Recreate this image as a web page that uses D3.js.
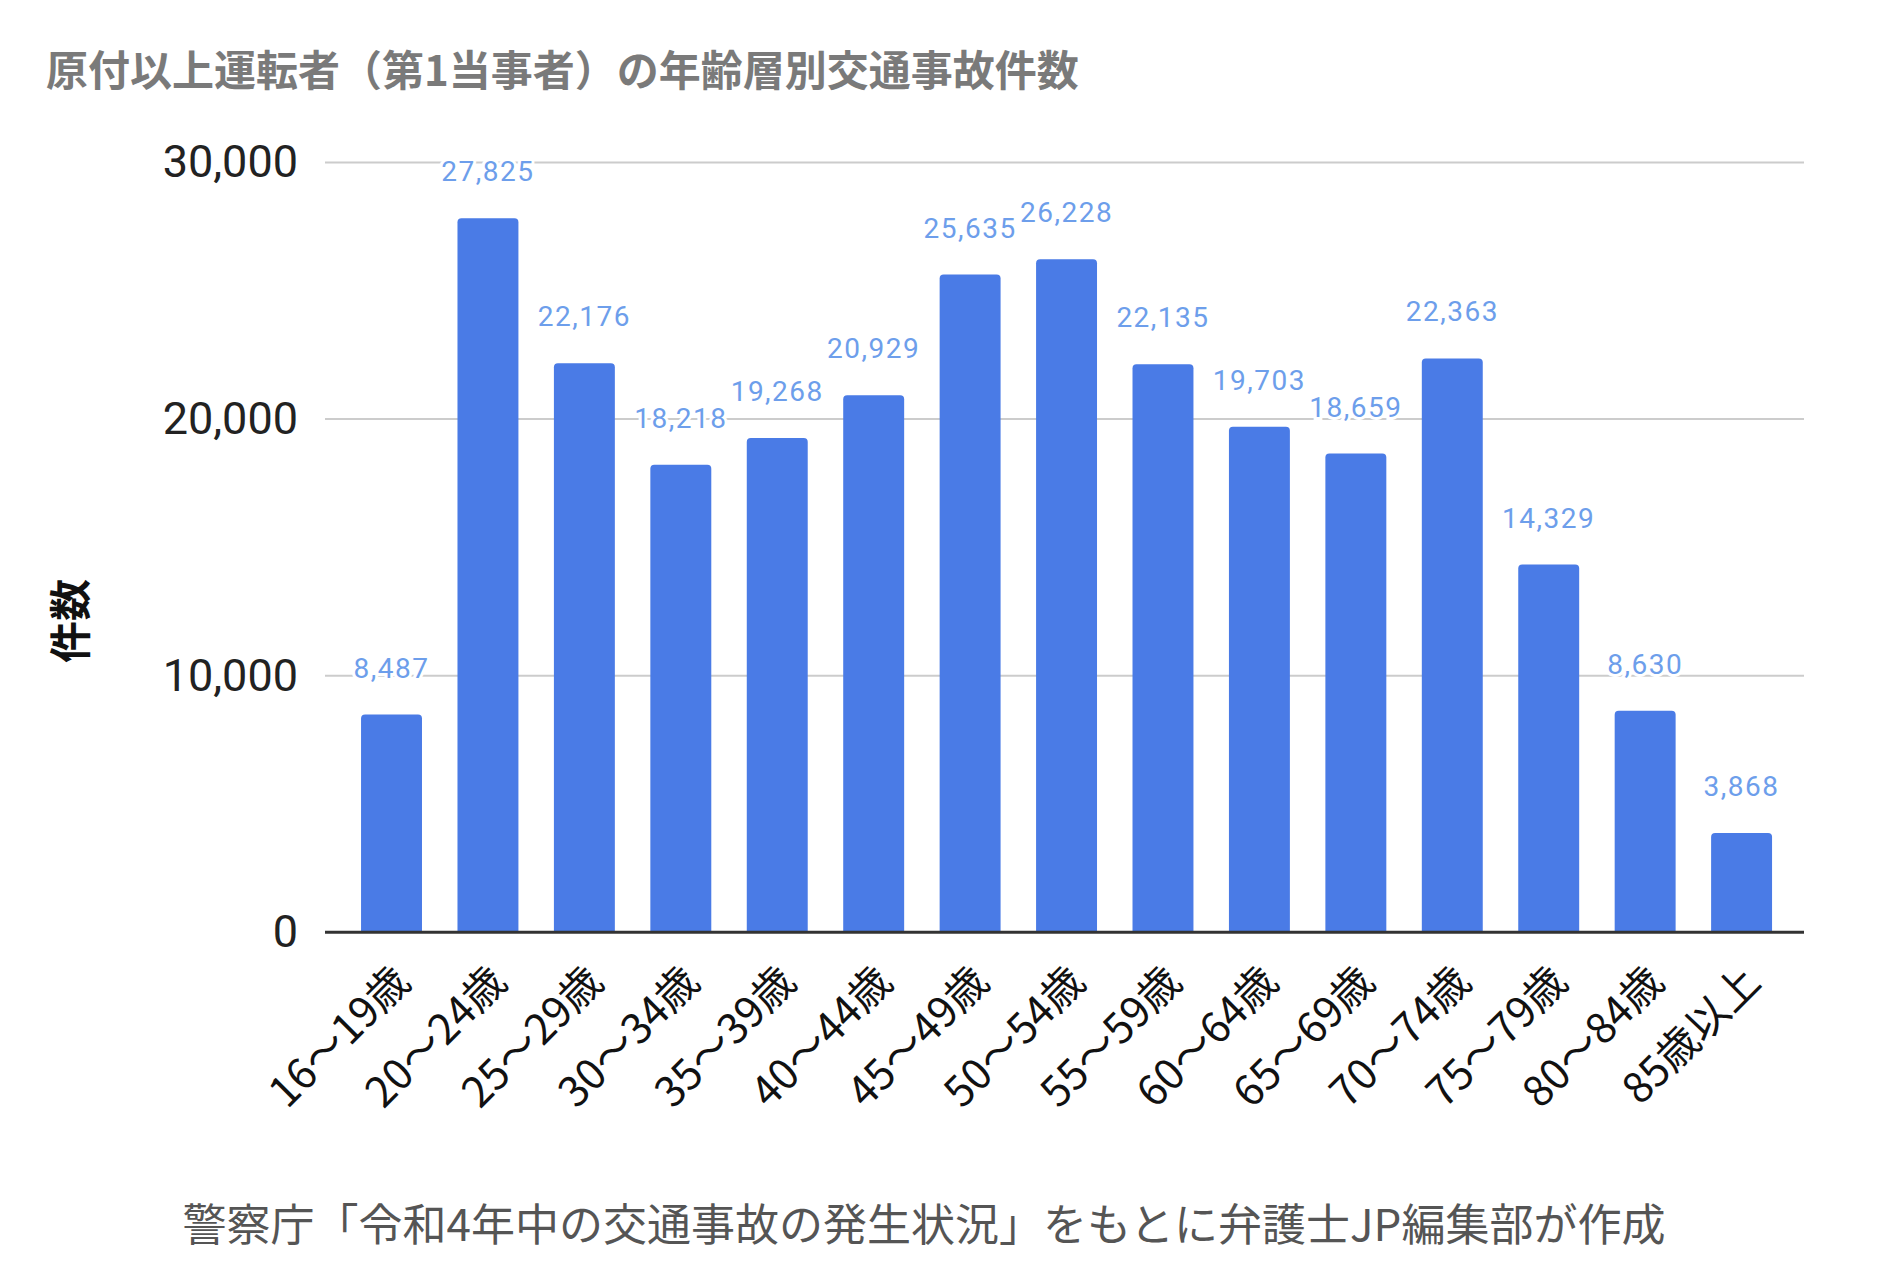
<!DOCTYPE html>
<html>
<head>
<meta charset="utf-8">
<script src="https://cdn.jsdelivr.net/npm/d3@7"></script>
<style>
  html, body { margin: 0; padding: 0; background: #fff; }
  svg { display: block; }
</style>
</head>
<body>
<svg id="chart" width="1877" height="1272"></svg>
<script>
const categories = ["16～19歳","20～24歳","25～29歳","30～34歳","35～39歳","40～44歳","45～49歳","50～54歳","55～59歳","60～64歳","65～69歳","70～74歳","75～79歳","80～84歳","85歳以上"];
const values = [8487, 27825, 22176, 18218, 19268, 20929, 25635, 26228, 22135, 19703, 18659, 22363, 14329, 8630, 3868];
const yTicks = [0, 10000, 20000, 30000];
const titleText = "原付以上運転者（第1当事者）の年齢層別交通事故件数";
const yTitle = "件数";
const caption = "警察庁「令和4年中の交通事故の発生状況」をもとに弁護士JP編集部が作成";

const svg = d3.select("#chart");
const cjk = "'Noto Sans CJK JP', 'Noto Sans', sans-serif";
const num = "Roboto, 'Noto Sans', sans-serif";

const x = d3.scaleBand().domain(categories).range([343.3, 1789.8]).paddingInner(0.368).paddingOuter(0.184);
const y = d3.scaleLinear().domain([0, 30000]).range([932.3, 162.5]);
const gridX0 = 325, gridX1 = 1804;

// title
svg.append("text").attr("x", 46).attr("y", 86)
  .attr("font-family", cjk).attr("font-size", 42).attr("font-weight", 700)
  .attr("fill", "#7a7a7a").text(titleText);

// gridlines
svg.append("g").selectAll("line").data(yTicks.filter(d => d > 0)).join("line")
  .attr("x1", gridX0).attr("x2", gridX1)
  .attr("y1", d => y(d)).attr("y2", d => y(d))
  .attr("stroke", "#cccccc").attr("stroke-width", 2);

// y axis labels
const yAxis = d3.axisLeft(y).tickValues(yTicks).tickSize(0).tickPadding(0).tickFormat(d3.format(","));
const ya = svg.append("g").attr("transform", `translate(298,0)`).call(yAxis);
ya.select(".domain").remove();
ya.selectAll("text").attr("font-family", num).attr("font-size", 45).attr("fill", "#222");

// y title
svg.append("text").attr("transform", "translate(86,621) rotate(-90)")
  .attr("text-anchor", "middle").attr("font-family", cjk).attr("font-size", 42)
  .attr("font-weight", 700).attr("fill", "#111").text(yTitle);

// bars with rounded top corners
const r = 4;
svg.append("g").selectAll("path").data(values).join("path")
  .attr("d", (d, i) => {
    const x0 = x(categories[i]), w = x.bandwidth(), y0 = y(d), yb = y(0);
    return `M${x0},${yb}V${y0 + r}Q${x0},${y0} ${x0 + r},${y0}H${x0 + w - r}Q${x0 + w},${y0} ${x0 + w},${y0 + r}V${yb}Z`;
  })
  .attr("fill", "#4a7be6");

// data labels
svg.append("g").selectAll("text").data(values).join("text")
  .attr("x", (d, i) => x(categories[i]) + x.bandwidth() / 2)
  .attr("y", d => y(d) - 37)
  .attr("text-anchor", "middle")
  .attr("font-family", num).attr("font-size", 28).attr("letter-spacing", 1.5)
  .attr("fill", "#6d9eeb")
  .attr("stroke", "#fff").attr("stroke-width", 6).attr("paint-order", "stroke")
  .text(d => d3.format(",")(d));

// baseline
svg.append("line").attr("x1", gridX0).attr("x2", gridX1)
  .attr("y1", y(0)).attr("y2", y(0)).attr("stroke", "#333").attr("stroke-width", 3);

// x labels
const xAxis = d3.axisBottom(x).tickSize(0).tickPadding(0);
const xa = svg.append("g").attr("transform", `translate(0,${y(0)})`).call(xAxis);
xa.select(".domain").remove();
xa.selectAll("text")
  .attr("font-family", cjk).attr("font-size", 42).attr("fill", "#111")
  .attr("text-anchor", "end").attr("dy", null).attr("y", 0)
  .attr("transform", "translate(21,52) rotate(-45)");

// caption
svg.append("text").attr("x", 924).attr("y", 1241).attr("text-anchor", "middle")
  .attr("font-family", cjk).attr("font-size", 44).attr("fill", "#555").text(caption);
</script>
</body>
</html>
